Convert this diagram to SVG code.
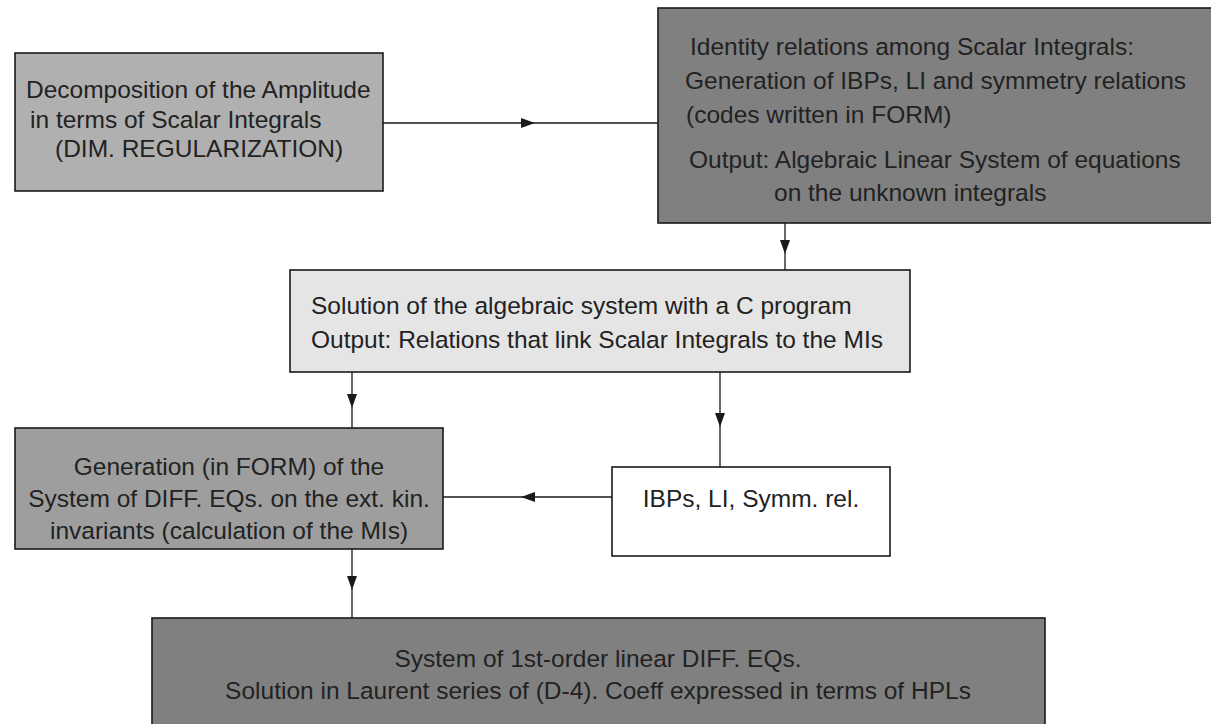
<svg xmlns="http://www.w3.org/2000/svg" width="1211" height="724" viewBox="0 0 1211 724">
<defs>
<marker id="ah" markerWidth="14" markerHeight="10" refX="7" refY="5" orient="auto" markerUnits="userSpaceOnUse">
<path d="M0,0 L14,5 L0,10 Z" fill="#1a1a1a"/>
</marker>
<style>
.box{stroke:#1a1a1a;stroke-width:1.6}
.t{font-family:"Liberation Sans",Arial,sans-serif;font-size:24.5px;fill:#222}
.c{text-anchor:middle}
.ln{fill:none;stroke:#1a1a1a;stroke-width:1.3;marker-mid:url(#ah)}
</style>
</defs>
<rect width="1211" height="724" fill="#fff"/>
<g id="connectors">
<path class="ln" d="M383,123 L528,123 L658,123"/>
<path class="ln" d="M785,223 L785,247 L785,270"/>
<path class="ln" d="M352,372 L352,401 L352,428"/>
<path class="ln" d="M720,372 L720,420 L720,467"/>
<path class="ln" d="M612,497 L528,497 L443,497"/>
<path class="ln" d="M352,549 L352,583 L352,618"/>
</g>
<g id="n1">
<rect class="box" x="15" y="53" width="368" height="138" fill="#b0b0b0"/>
<text class="t" x="26" y="98">Decomposition of the Amplitude</text>
<text class="t" x="30" y="128">in terms of Scalar Integrals</text>
<text class="t" x="55" y="157">(DIM. REGULARIZATION)</text>
</g>
<g id="n2">
<rect class="box" x="658" y="8" width="560" height="215" fill="#808080"/>
<text class="t" x="690" y="55">Identity relations among Scalar Integrals:</text>
<text class="t" x="685" y="89">Generation of IBPs, LI and symmetry relations</text>
<text class="t" x="686" y="123">(codes written in FORM)</text>
<text class="t" x="689" y="168">Output: Algebraic Linear System of equations</text>
<text class="t" x="774" y="201">on the unknown integrals</text>
</g>
<g id="n3">
<rect class="box" x="290" y="270" width="620" height="102" fill="#e5e5e5"/>
<text class="t" x="311" y="314">Solution of the algebraic system with a C program</text>
<text class="t" x="311" y="348">Output: Relations that link Scalar Integrals to the MIs</text>
</g>
<g id="n4">
<rect class="box" x="15" y="428" width="428" height="121" fill="#9e9e9e"/>
<text class="t c" x="229" y="475">Generation (in FORM) of the</text>
<text class="t c" x="229" y="507">System of DIFF. EQs. on the ext. kin.</text>
<text class="t c" x="229" y="539">invariants (calculation of the MIs)</text>
</g>
<g id="n5">
<rect class="box" x="612" y="467" width="278" height="89" fill="#fff"/>
<text class="t c" x="751" y="507">IBPs, LI, Symm. rel.</text>
</g>
<g id="n6">
<rect class="box" x="152" y="618" width="893" height="120" fill="#808080"/>
<text class="t c" x="598" y="667">System of 1st-order linear DIFF. EQs.</text>
<text class="t c" x="598" y="699">Solution in Laurent series of (D-4). Coeff expressed in terms of HPLs</text>
</g>
</svg>
